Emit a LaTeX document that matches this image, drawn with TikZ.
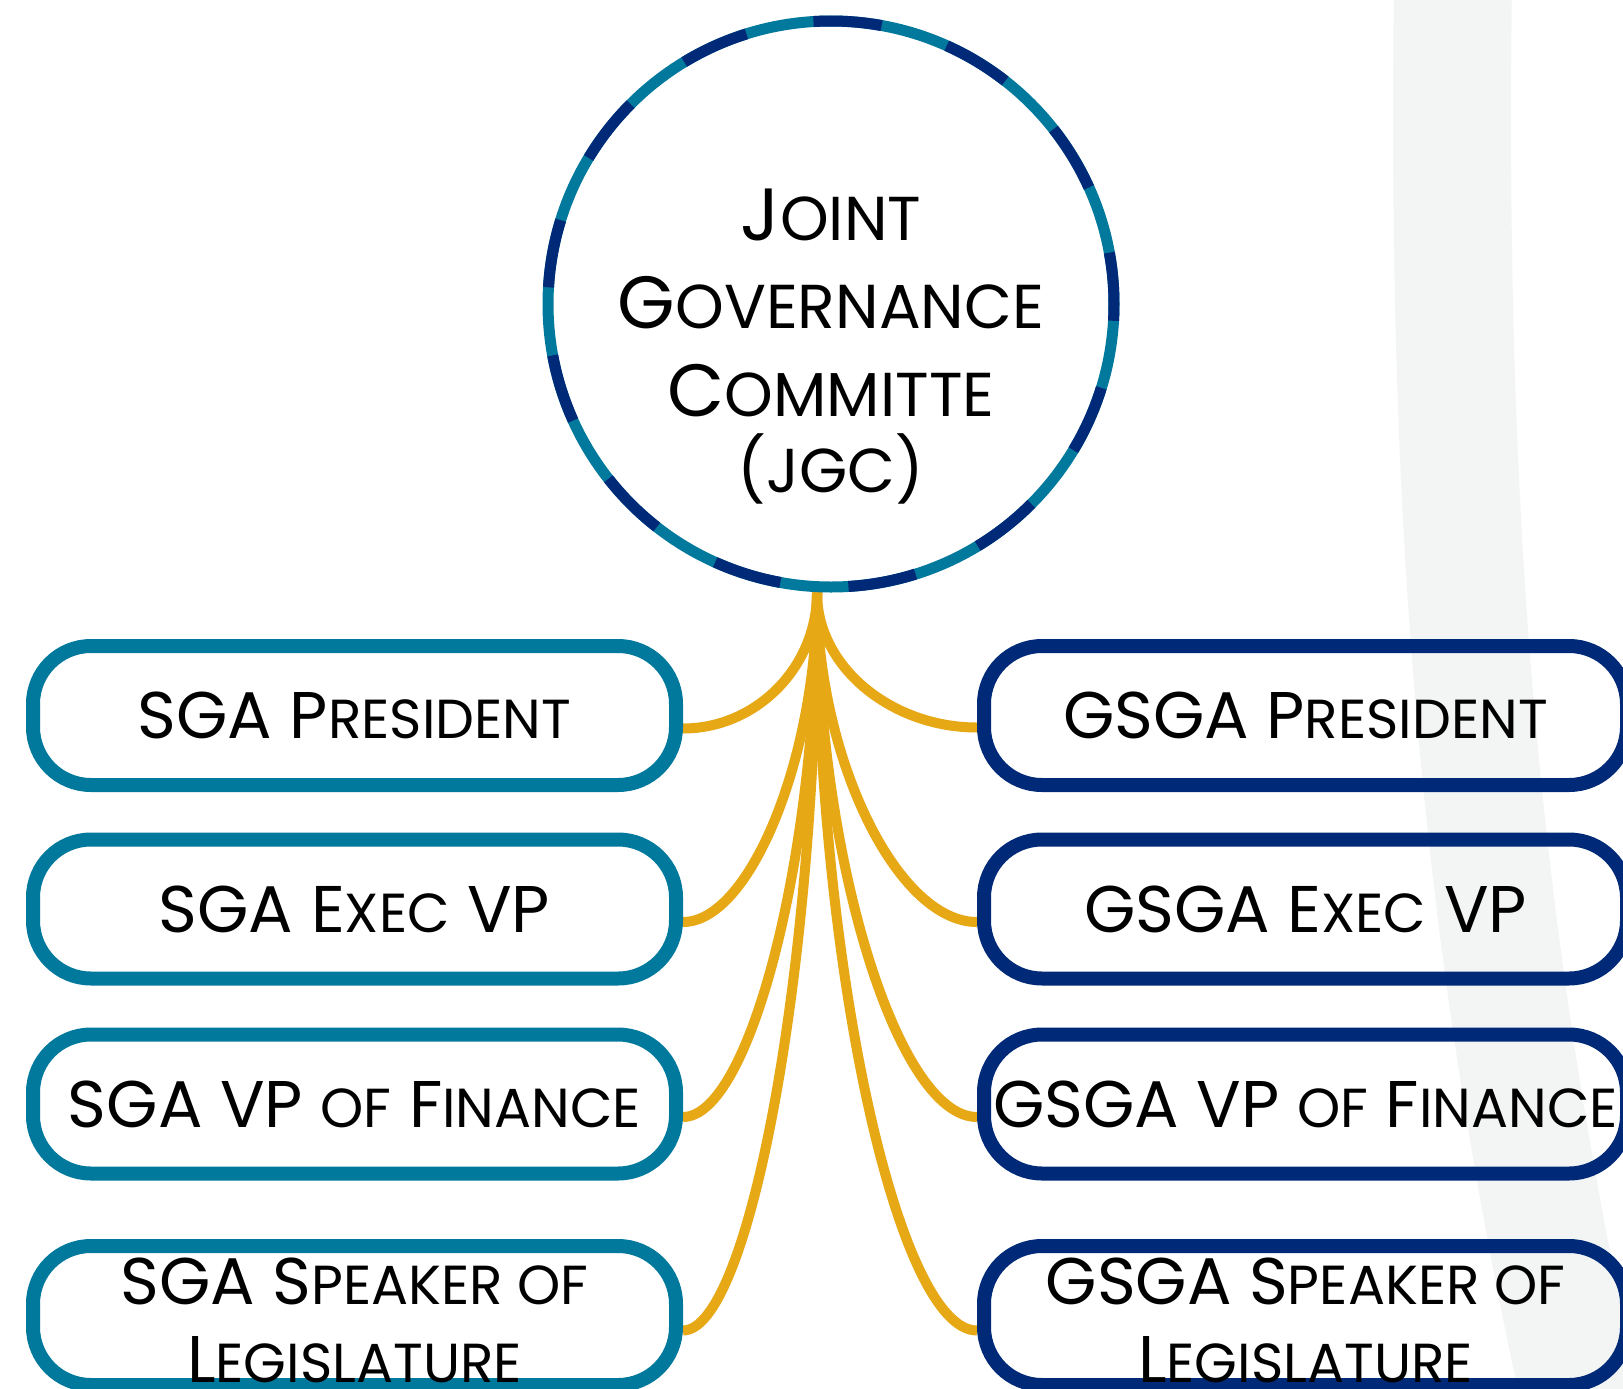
\documentclass[tikz,border=0pt]{standalone}
\usepackage{fontspec}
\setmainfont{Poppins}
\usetikzlibrary{calc}
\pgfdeclarelayer{bg}
\pgfsetlayers{bg,main}
\definecolor{mynavy}{RGB}{0,41,120}
\definecolor{myteal}{RGB}{0,121,156}
\definecolor{mygold}{RGB}{231,168,22}
\definecolor{bandc}{RGB}{243,245,244}
\newcommand\bsm[1]{{\fontsize{55}{78}\selectfont #1}}
\newcommand\csm[1]{{\fontsize{62}{88}\selectfont #1}}
\newcommand\cpar[1]{{\fontsize{63}{88}\selectfont #1}}
\tikzset{
  sbox/.style={draw, rounded corners=58, minimum width=643, minimum height=139,
    line width=14, font=\fontsize{66}{78}\selectfont, align=center, inner sep=0, text=black},
  lbox/.style={sbox, draw=myteal},
  rbox/.style={sbox, draw=mynavy},
  conn/.style={draw=mygold, line width=10},
}
\begin{document}
\begin{tikzpicture}[x=1pt,y=-1pt]
\useasboundingbox (0,0) rectangle (1623,1389);
\clip (0,0) rectangle (1623,1389);
\begin{pgfonlayer}{bg}
\fill[white] (0,0) rectangle (1623,1389);
\draw[bandc, line width=118] (1453,-20) .. controls (1447,450) and (1468,900) .. (1585,1420);
\end{pgfonlayer}

% central circle
\node[circle, draw=myteal, line width=11, minimum size=566, inner sep=0] (jgc) at (831,304) {};
\foreach \k in {0,...,12}{
  \draw[mynavy, line width=11] ($(jgc.center)+({-10.45+27.69*\k}:283)$)
     arc[start angle={-10.45+27.69*\k}, delta angle=13.85, radius=283];
}
\node[font=\fontsize{74}{88}\selectfont, align=center, inner sep=0] (jgctext) at (831,347)
  {J\csm{OINT}\\G\csm{OVERNANCE}\\C\csm{OMMITTE}\\[-12pt]\cpar{(}\csm{JGC}\cpar{)}};

% boxes
\node[lbox] (l1) at (354.5,715.5) {SGA P\bsm{RESIDENT}};
\node[lbox] (l2) at (354.5,909) {SGA E\bsm{XEC} VP};
\node[lbox] (l3) at (354.5,1104) {SGA VP \bsm{OF} F\bsm{INANCE}};
\node[lbox] (l4) at (354.5,1315.5) {\rule{0pt}{57pt}SGA S\bsm{PEAKER OF}\\L\bsm{EGISLATURE}};
\node[rbox] (r1) at (1305.5,715.5) {GSGA P\bsm{RESIDENT}};
\node[rbox] (r2) at (1305.5,909) {GSGA E\bsm{XEC} VP};
\node[rbox] (r3) at (1305.5,1104) {GSGA VP \bsm{OF} F\bsm{INANCE}};
\node[rbox] (r4) at (1305.5,1315.5) {\rule{0pt}{57pt}GSGA S\bsm{PEAKER OF}\\L\bsm{EGISLATURE}};

% connectors
\begin{pgfonlayer}{bg}
\path[conn] ([xshift=-14]jgc.south) .. controls +(0,75) and +(73,0) .. ([yshift=-13]l1.east);
\path[conn] ([xshift=-14]jgc.south) .. controls +(0,165) and +(67,0) .. ([yshift=-13]l2.east);
\path[conn] ([xshift=-14]jgc.south) .. controls +(0,262) and +(67,0) .. ([yshift=-13]l3.east);
\path[conn] ([xshift=-14]jgc.south) .. controls +(0,369) and +(67,0) .. ([yshift=-15]l4.east);
\path[conn] ([xshift=-14]jgc.south) .. controls +(0,75) and +(-85,0) .. ([yshift=-12]r1.west);
\path[conn] ([xshift=-14]jgc.south) .. controls +(0,165) and +(-80,0) .. ([yshift=-13]r2.west);
\path[conn] ([xshift=-14]jgc.south) .. controls +(0,262) and +(-80,0) .. ([yshift=-13]r3.west);
\path[conn] ([xshift=-14]jgc.south) .. controls +(0,369) and +(-80,0) .. ([yshift=-15]r4.west);
\end{pgfonlayer}
\end{tikzpicture}
\end{document}
